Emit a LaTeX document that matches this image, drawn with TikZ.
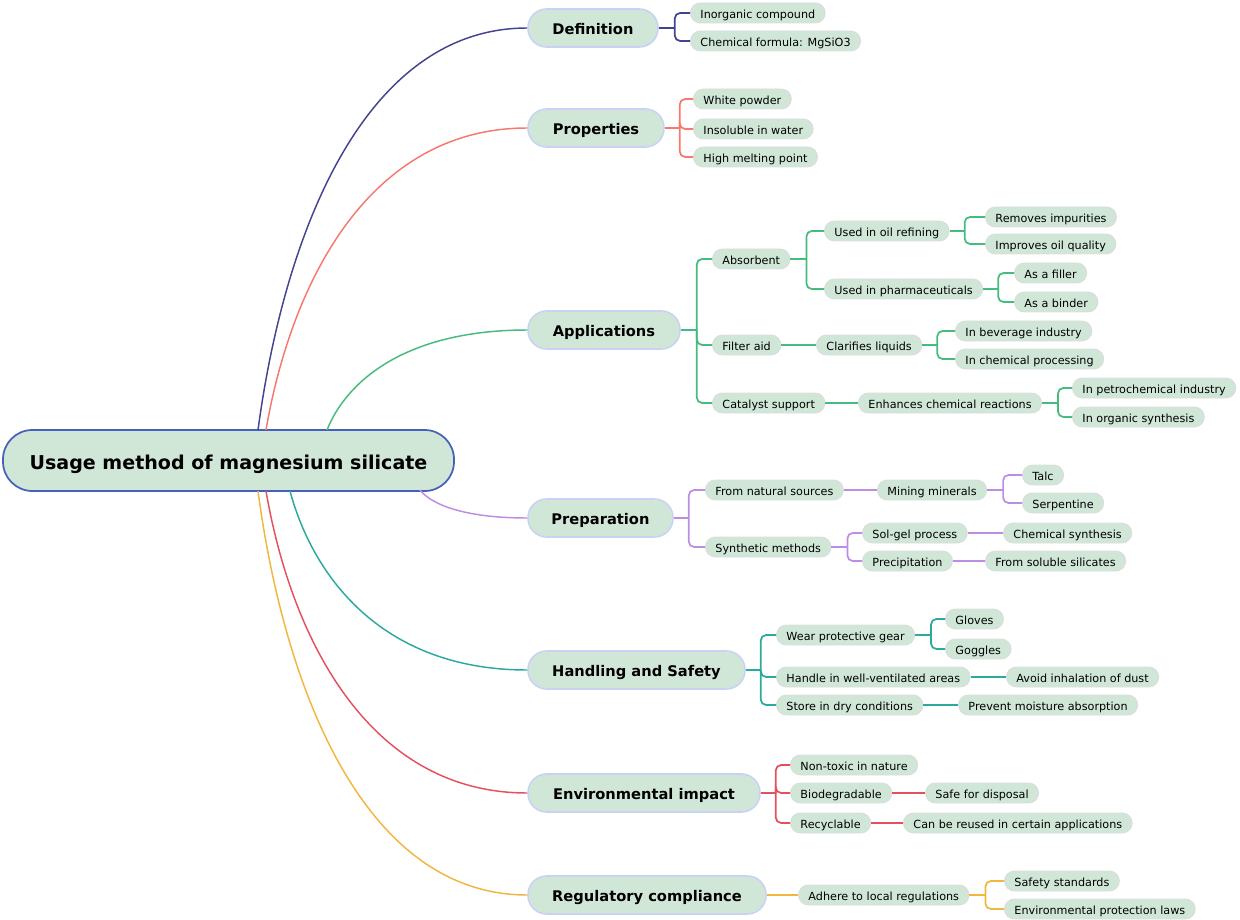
\documentclass[tikz,border=0pt]{standalone}
\usepackage{fontspec}
\setmainfont{DejaVu Sans}
\usetikzlibrary{calc}
\definecolor{fillc}{HTML}{D0E7D8}
\definecolor{rootb}{HTML}{4560B8}
\definecolor{lonb}{HTML}{C9D2F5}
\definecolor{leafb}{HTML}{DCDCDC}
\definecolor{cnavy}{HTML}{43438F}
\definecolor{csalmon}{HTML}{F7786F}
\definecolor{cgreen}{HTML}{45BB7E}
\definecolor{cpurple}{HTML}{BB8EE3}
\definecolor{cteal}{HTML}{2AAA9D}
\definecolor{cred}{HTML}{E5505F}
\definecolor{corange}{HTML}{F2B63F}
\tikzset{
  rootn/.style={draw=rootb, line width=1.3pt, fill=fillc, rounded corners=22pt,
    minimum width=338.25pt, minimum height=45.75pt, inner sep=0pt,
    text height=12.9pt, text depth=0pt,
    font=\fontsize{14.3}{17}\selectfont\bfseries},
  lone/.style={draw=lonb, line width=1.2pt, fill=fillc, rounded corners=14pt,
    minimum height=28.5pt, inner sep=0pt, text height=9.9pt, text depth=0pt,
    font=\fontsize{11}{13}\selectfont\bfseries},
  leaf/.style={draw=leafb, line width=0.7pt, fill=fillc, rounded corners=7.5pt,
    minimum height=15pt, inner xsep=7.5pt, inner ysep=0pt, anchor=west,
    text height=7.6pt, text depth=0pt,
    font=\fontsize{8.4}{10}\selectfont},
  cur/.style={line width=1.1pt},
  br/.style={line width=1.3pt},
  brc/.style={line width=1.3pt, rounded corners=4pt},
}
\begin{document}
\begin{tikzpicture}[x=0.75pt,y=-0.75pt]
\useasboundingbox (0,0) rectangle (1240,920);

% root and main topics
\node[rootn] (root) at (228.5,460.5) {Usage method of magnesium silicate};
\node[lone, minimum width=97.5pt] (def) at (593,28) {Definition};
\node[lone, minimum width=102pt] (prop) at (596,128) {Properties};
\node[lone, minimum width=114pt] (app) at (604,330) {Applications};
\node[lone, minimum width=108.75pt] (prep) at (600.5,518) {Preparation};
\node[lone, minimum width=162.75pt] (hand) at (636.5,670) {Handling and Safety};
\node[lone, minimum width=174pt] (env) at (644,793) {Environmental impact};
\node[lone, minimum width=178.5pt] (reg) at (647,895) {Regulatory compliance};

% curves from root
\coordinate (s1) at (258,430);
\coordinate (s2) at (266,430);
\coordinate (s3) at (327,430);
\coordinate (s4) at (420,490);
\coordinate (s5) at (290,491);
\coordinate (s6) at (266,491);
\coordinate (s7) at (258,491);
\draw[cur, cnavy] (s1) .. controls (285,229) and (366,28) .. (def.west);
\draw[cur, csalmon] (s2) .. controls (292,279) and (371,128) .. (prop.west);
\draw[cur, cgreen] (s3) .. controls (347,380) and (407,330) .. (app.west);
\draw[cur, cpurple] (s4) .. controls (431,504) and (463,518) .. (prep.west);
\draw[cur, cteal] (s5) .. controls (314,580) and (385,670) .. (hand.west);
\draw[cur, cred] (s6) .. controls (292,642) and (371,793) .. (env.west);
\draw[cur, corange] (s7) .. controls (285,693) and (366,895) .. (reg.west);

% Definition
\node[leaf] (d1) at (690,13) {Inorganic compound};
\node[leaf] (d2) at (690,41) {Chemical formula: MgSiO3};
\coordinate (defb) at ($(def.east)+(16,0)$);
\draw[br, cnavy] (def.east) -- (defb);
\draw[brc, cnavy] (defb) |- (d1.west);
\draw[brc, cnavy] (defb) |- (d2.west);

% Properties
\node[leaf] (p1) at (693,99) {White powder};
\node[leaf] (p2) at (693,129) {Insoluble in water};
\node[leaf] (p3) at (693,157) {High melting point};
\coordinate (propb) at ($(prop.east)+(15,0)$);
\draw[br, csalmon] (prop.east) -- (propb);
\draw[brc, csalmon] (propb) |- (p1.west);
\draw[brc, csalmon] (propb) |- (p2.west);
\draw[brc, csalmon] (propb) |- (p3.west);

% Applications
\node[leaf] (a1) at (712,259) {Absorbent};
\node[leaf] (a2) at (712,345) {Filter aid};
\node[leaf] (a3) at (712,403) {Catalyst support};
\coordinate (appb) at ($(app.east)+(16,0)$);
\draw[br, cgreen] (app.east) -- (appb);
\draw[brc, cgreen] (appb) |- (a1.west);
\draw[brc, cgreen] (appb) |- (a2.west);
\draw[brc, cgreen] (appb) |- (a3.west);

\node[leaf] (a11) at (824,231) {Used in oil refining};
\node[leaf] (a12) at (824,289) {Used in pharmaceuticals};
\coordinate (a1b) at ($(a1.east)+(16,0)$);
\draw[br, cgreen] (a1.east) -- (a1b);
\draw[brc, cgreen] (a1b) |- (a11.west);
\draw[brc, cgreen] (a1b) |- (a12.west);

\node[leaf] (a111) at (985,217) {Removes impurities};
\node[leaf] (a112) at (985,244) {Improves oil quality};
\coordinate (a11b) at ($(a11.east)+(15,0)$);
\draw[br, cgreen] (a11.east) -- (a11b);
\draw[brc, cgreen] (a11b) |- (a111.west);
\draw[brc, cgreen] (a11b) |- (a112.west);

\node[leaf] (a121) at (1014,273) {As a filler};
\node[leaf] (a122) at (1014,302) {As a binder};
\coordinate (a12b) at ($(a12.east)+(15,0)$);
\draw[br, cgreen] (a12.east) -- (a12b);
\draw[brc, cgreen] (a12b) |- (a121.west);
\draw[brc, cgreen] (a12b) |- (a122.west);

\node[leaf] (a21) at (816,345) {Clarifies liquids};
\draw[br, cgreen] (a2.east) -- (a21.west);
\node[leaf] (a211) at (955,331) {In beverage industry};
\node[leaf] (a212) at (955,359) {In chemical processing};
\coordinate (a21b) at ($(a21.east)+(15,0)$);
\draw[br, cgreen] (a21.east) -- (a21b);
\draw[brc, cgreen] (a21b) |- (a211.west);
\draw[brc, cgreen] (a21b) |- (a212.west);

\node[leaf] (a31) at (858,403) {Enhances chemical reactions};
\draw[br, cgreen] (a3.east) -- (a31.west);
\node[leaf] (a311) at (1072,388) {In petrochemical industry};
\node[leaf] (a312) at (1072,417) {In organic synthesis};
\coordinate (a31b) at ($(a31.east)+(16,0)$);
\draw[br, cgreen] (a31.east) -- (a31b);
\draw[brc, cgreen] (a31b) |- (a311.west);
\draw[brc, cgreen] (a31b) |- (a312.west);

% Preparation
\node[leaf] (r1) at (705,490) {From natural sources};
\node[leaf] (r2) at (705,547) {Synthetic methods};
\coordinate (prepb) at ($(prep.east)+(15,0)$);
\draw[br, cpurple] (prep.east) -- (prepb);
\draw[brc, cpurple] (prepb) |- (r1.west);
\draw[brc, cpurple] (prepb) |- (r2.west);

\node[leaf] (r11) at (877,490) {Mining minerals};
\draw[br, cpurple] (r1.east) -- (r11.west);
\node[leaf] (r111) at (1022,475) {Talc};
\node[leaf] (r112) at (1022,503) {Serpentine};
\coordinate (r11b) at ($(r11.east)+(16,0)$);
\draw[br, cpurple] (r11.east) -- (r11b);
\draw[brc, cpurple] (r11b) |- (r111.west);
\draw[brc, cpurple] (r11b) |- (r112.west);

\node[leaf] (r21) at (862,533) {Sol-gel process};
\node[leaf] (r22) at (862,561) {Precipitation};
\coordinate (r2b) at ($(r2.east)+(16,0)$);
\draw[br, cpurple] (r2.east) -- (r2b);
\draw[brc, cpurple] (r2b) |- (r21.west);
\draw[brc, cpurple] (r2b) |- (r22.west);
\node[leaf] (r211) at (1003,533) {Chemical synthesis};
\draw[br, cpurple] (r21.east) -- (r211.west);
\node[leaf] (r221) at (985,561) {From soluble silicates};
\draw[br, cpurple] (r22.east) -- (r221.west);

% Handling and Safety
\node[leaf] (h1) at (776,635) {Wear protective gear};
\node[leaf] (h2) at (776,677) {Handle in well-ventilated areas};
\node[leaf] (h3) at (776,705) {Store in dry conditions};
\coordinate (handb) at ($(hand.east)+(15,0)$);
\draw[br, cteal] (hand.east) -- (handb);
\draw[brc, cteal] (handb) |- (h1.west);
\draw[brc, cteal] (handb) |- (h2.west);
\draw[brc, cteal] (handb) |- (h3.west);

\node[leaf] (h11) at (945,619) {Gloves};
\node[leaf] (h12) at (945,649) {Goggles};
\coordinate (h1b) at ($(h1.east)+(16,0)$);
\draw[br, cteal] (h1.east) -- (h1b);
\draw[brc, cteal] (h1b) |- (h11.west);
\draw[brc, cteal] (h1b) |- (h12.west);
\node[leaf] (h21) at (1006,677) {Avoid inhalation of dust};
\draw[br, cteal] (h2.east) -- (h21.west);
\node[leaf] (h31) at (958,705) {Prevent moisture absorption};
\draw[br, cteal] (h3.east) -- (h31.west);

% Environmental impact
\node[leaf] (e1) at (790,765) {Non-toxic in nature};
\node[leaf] (e2) at (790,793) {Biodegradable};
\node[leaf] (e3) at (790,823) {Recyclable};
\coordinate (envb) at ($(env.east)+(15,0)$);
\draw[br, cred] (env.east) -- (envb);
\draw[brc, cred] (envb) |- (e1.west);
\draw[brc, cred] (envb) |- (e2.west);
\draw[brc, cred] (envb) |- (e3.west);
\node[leaf] (e21) at (925,793) {Safe for disposal};
\draw[br, cred] (e2.east) -- (e21.west);
\node[leaf] (e31) at (903,823) {Can be reused in certain applications};
\draw[br, cred] (e3.east) -- (e31.west);

% Regulatory compliance
\node[leaf] (g1) at (798,895) {Adhere to local regulations};
\draw[br, corange] (reg.east) -- (g1.west);
\node[leaf] (g11) at (1004,881) {Safety standards};
\node[leaf] (g12) at (1004,909) {Environmental protection laws};
\coordinate (g1b) at ($(g1.east)+(16,0)$);
\draw[br, corange] (g1.east) -- (g1b);
\draw[brc, corange] (g1b) |- (g11.west);
\draw[brc, corange] (g1b) |- (g12.west);
\end{tikzpicture}
\end{document}
